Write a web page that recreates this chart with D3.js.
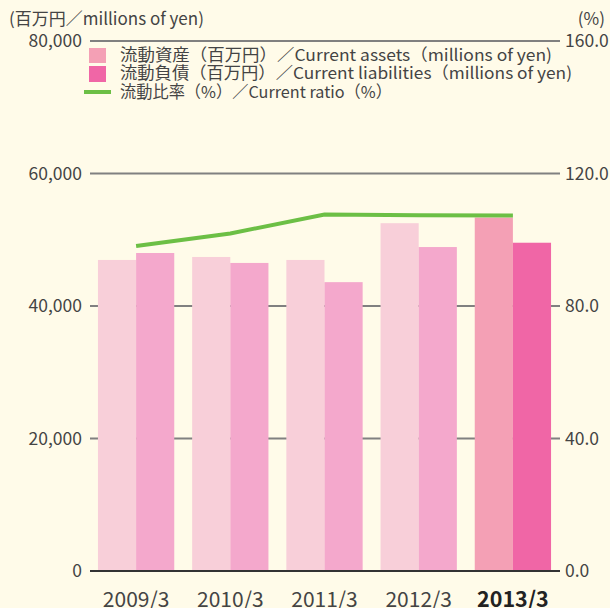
<!DOCTYPE html>
<html>
<head>
<meta charset="utf-8">
<script src="https://cdn.jsdelivr.net/npm/d3@7"></script>
<style>
  body { margin: 0; background: #fffbe9; }
  svg text { font-family: "Noto Sans CJK JP", "Noto Sans", sans-serif; fill: #444; }
</style>
</head>
<body>
<svg></svg>
<script>
const width = 610;
const height = 608;

// data
const years = ["2009/3", "2010/3", "2011/3", "2012/3", "2013/3"];
const currentAssets = [46950, 47400, 46950, 52500, 53350];
const currentLiabilities = [48000, 46500, 43600, 48900, 49550];
const currentRatio = [98.1, 101.9, 107.6, 107.4, 107.3];
const leftTicks = [0, 20000, 40000, 60000, 80000];
const rightTicks = [0, 40, 80, 120, 160];
const legendLabels = [
  "流動資産（百万円）／Current assets（millions of yen)",
  "流動負債（百万円）／Current liabilities（millions of yen)",
  "流動比率（%）／Current ratio（%）"
];

const svg = d3.select("svg")
  .attr("width", width)
  .attr("height", height);

const plotLeft = 90, plotRight = 560, plotTop = 41, plotBottom = 571;

const x = d3.scaleBand()
  .domain(years)
  .range([plotLeft - 1, plotRight])
  .paddingInner(0.19)
  .paddingOuter(0.095);

const x1 = d3.scaleBand()
  .domain(["assets", "liab"])
  .range([0, x.bandwidth()]);

const y = d3.scaleLinear().domain([0, 80000]).range([plotBottom, plotTop]);
const y2 = d3.scaleLinear().domain([0, 160]).range([plotBottom, plotTop]);

const colors = {
  assets: "#f8cfd9",
  liab: "#f4a8cc",
  assetsLast: "#f4a0b5",
  liabLast: "#f066a6"
};

// gridlines
svg.append("g")
  .selectAll("line")
  .data(leftTicks.slice(1))
  .enter()
  .append("line")
  .attr("x1", plotLeft)
  .attr("x2", plotRight)
  .attr("y1", d => y(d))
  .attr("y2", d => y(d))
  .attr("stroke", "#808080")
  .attr("stroke-width", 2);

// left labels
svg.append("g")
  .selectAll("text")
  .data(leftTicks)
  .enter()
  .append("text")
  .attr("x", 82)
  .attr("y", d => y(d))
  .attr("dy", "0.35em")
  .attr("text-anchor", "end")
  .attr("font-size", "17.5px")
  .text(d => d3.format(",")(d));

// right labels
svg.append("g")
  .selectAll("text")
  .data(rightTicks)
  .enter()
  .append("text")
  .attr("x", 565)
  .attr("y", d => y2(d))
  .attr("dy", "0.35em")
  .attr("font-size", "17.5px")
  .text(d => d3.format(".1f")(d));

// bars
const groups = svg.append("g")
  .selectAll("g")
  .data(years)
  .enter()
  .append("g")
  .attr("transform", d => `translate(${x(d)},0)`);

groups.append("rect")
  .attr("x", x1("assets"))
  .attr("width", x1.bandwidth())
  .attr("y", (d, i) => y(currentAssets[i]))
  .attr("height", (d, i) => plotBottom - y(currentAssets[i]))
  .attr("fill", (d, i) => i === years.length - 1 ? colors.assetsLast : colors.assets);

groups.append("rect")
  .attr("x", x1("liab"))
  .attr("width", x1.bandwidth())
  .attr("y", (d, i) => y(currentLiabilities[i]))
  .attr("height", (d, i) => plotBottom - y(currentLiabilities[i]))
  .attr("fill", (d, i) => i === years.length - 1 ? colors.liabLast : colors.liab);

// baseline
svg.append("line")
  .attr("x1", plotLeft)
  .attr("x2", plotRight)
  .attr("y1", plotBottom)
  .attr("y2", plotBottom)
  .attr("stroke", "#333")
  .attr("stroke-width", 2);

// ratio line
const line = d3.line()
  .x((d, i) => x(years[i]) + x.bandwidth() / 2)
  .y(d => y2(d));

svg.append("path")
  .datum(currentRatio)
  .attr("fill", "none")
  .attr("stroke", "#6cbf45")
  .attr("stroke-width", 4)
  .attr("d", line);

// x labels
svg.append("g")
  .selectAll("text")
  .data(years)
  .enter()
  .append("text")
  .attr("x", d => x(d) + x.bandwidth() / 2)
  .attr("y", 607)
  .attr("text-anchor", "middle")
  .attr("font-size", (d, i) => i === years.length - 1 ? "21.5px" : "21px")
  .attr("font-weight", (d, i) => i === years.length - 1 ? "bold" : "normal")
  .style("fill", (d, i) => i === years.length - 1 ? "#222" : "#444")
  .text(d => d);

// unit labels
svg.append("text")
  .attr("x", 9)
  .attr("y", 19)
  .attr("dy", "0.35em")
  .attr("font-size", "17px")
  .text("(百万円／millions of yen)");

svg.append("text")
  .attr("x", 605)
  .attr("y", 19)
  .attr("dy", "0.35em")
  .attr("text-anchor", "end")
  .attr("font-size", "17px")
  .text("(%)");

// legend
const legend = svg.append("g");
const legendY = [55, 73, 92];
const legendLengths = [432, 452, 272];

legend.append("rect")
  .attr("x", 89).attr("y", 48).attr("width", 17).attr("height", 15)
  .attr("fill", colors.assetsLast);
legend.append("rect")
  .attr("x", 89).attr("y", 66).attr("width", 17).attr("height", 16)
  .attr("fill", colors.liabLast);
legend.append("line")
  .attr("x1", 84).attr("x2", 111).attr("y1", 92).attr("y2", 92)
  .attr("stroke", "#6cbf45").attr("stroke-width", 4);

legend.selectAll("text")
  .data(legendLabels)
  .enter()
  .append("text")
  .attr("x", 120)
  .attr("y", (d, i) => legendY[i])
  .attr("dy", "0.35em")
  .attr("font-size", "16.5px")
  .attr("textLength", (d, i) => legendLengths[i])
  .attr("lengthAdjust", "spacingAndGlyphs")
  .text(d => d);
</script>
</body>
</html>
